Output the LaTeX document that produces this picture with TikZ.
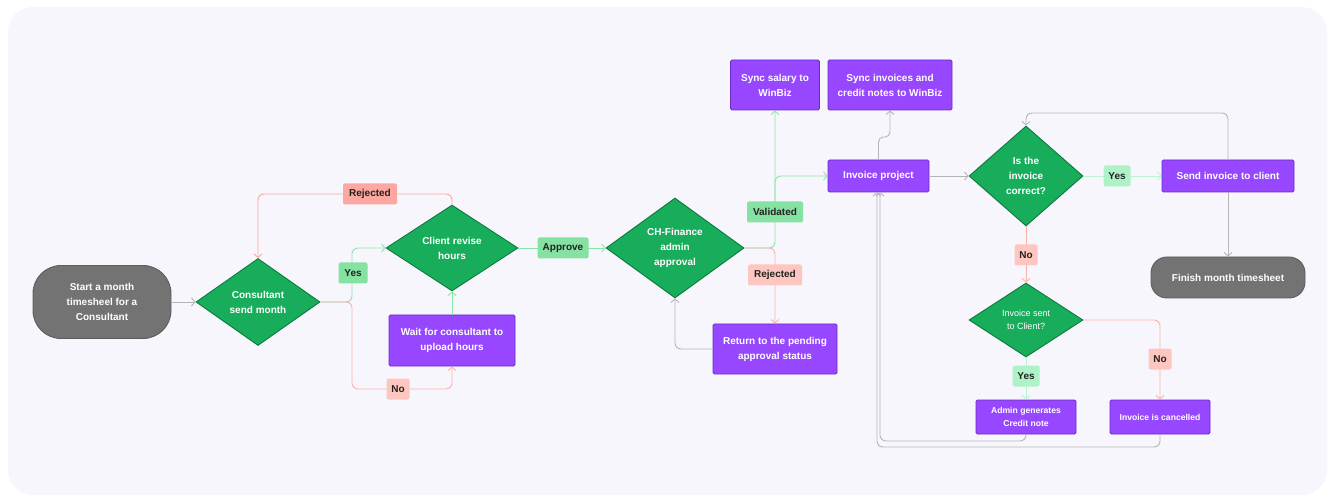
\documentclass[tikz,border=0pt]{standalone}
\usepackage{fontspec}
\setmainfont{Liberation Sans}
\usetikzlibrary{shapes.geometric,arrows.meta}
\definecolor{bgc}{HTML}{F8F6FD}
\definecolor{dg}{HTML}{17AD5B}
\definecolor{dgb}{HTML}{0D7A3D}
\definecolor{pu}{HTML}{9747FF}
\definecolor{pub}{HTML}{6C2BC2}
\definecolor{gr}{HTML}{737373}
\definecolor{grb}{HTML}{5C5C5C}
\definecolor{lgreen}{HTML}{86E2A3}
\definecolor{lgreen2}{HTML}{AEF2C8}
\definecolor{lred}{HTML}{FCA8A0}
\definecolor{lred2}{HTML}{FEC6C0}
\definecolor{cgreen}{HTML}{8AE6A8}
\definecolor{cgreen2}{HTML}{B8F5CF}
\definecolor{cred}{HTML}{FBB2AC}
\definecolor{cgray}{HTML}{B5B5B5}
\definecolor{txt}{HTML}{222222}
\begin{document}
\begin{tikzpicture}[x=1pt,y=-1pt,
  every node/.style={font=\bfseries\fontsize{10}{15}\selectfont},
  decision/.style={diamond, fill=dg, draw=dgb, line width=0.9pt, text=white, inner sep=0pt, align=center},
  proc/.style={rectangle, fill=pu, draw=pub, line width=0.9pt, text=white, align=center, rounded corners=1.5pt, inner sep=0pt},
  term/.style={rectangle, fill=gr, draw=grb, line width=0.9pt, text=white, align=center, inner sep=0pt},
  lab/.style={rectangle, rounded corners=2pt, inner sep=0pt, minimum height=21pt, text=txt},
  conn/.style={line width=0.9pt, rounded corners=6pt, -{Straight Barb[length=3.5pt,width=8pt]}},
  small/.style={font=\bfseries\fontsize{8.6}{13}\selectfont}
]
\fill[white] (0,0) rectangle (1335,502);
\fill[bgc, rounded corners=25pt] (8,7) rectangle (1327,495);
\useasboundingbox (0,0) rectangle (1335,502);

% nodes
\node[term, minimum width=138, minimum height=73, rounded corners=28pt] (start) at (102,302) {Start a month\\timesheel for a\\Consultant};
\node[decision, minimum width=124, minimum height=87] (csm) at (258,302) {Consultant\\send month};
\node[decision, minimum width=132, minimum height=86] (crh) at (452,248) {Client revise\\hours};
\node[proc, minimum width=126, minimum height=51] (wait) at (452,340.5) {Wait for consultant to\\upload hours};
\node[decision, minimum width=138, minimum height=100] (chf) at (675,248) {CH-Finance\\admin\\approval};
\node[proc, minimum width=89, minimum height=50] (sal) at (775,85) {Sync salary to\\WinBiz};
\node[proc, minimum width=124, minimum height=50] (sinv) at (890,85) {Sync invoices and\\credit notes to WinBiz};
\node[proc, minimum width=101, minimum height=32] (invp) at (878.5,176) {Invoice project};
\node[proc, minimum width=124, minimum height=50] (ret) at (775,349) {Return to the pending\\approval status};
\node[decision, minimum width=114, minimum height=100] (corr) at (1026,176) {Is the\\invoice\\correct?};
\node[proc, minimum width=132, minimum height=32] (send) at (1228,176) {Send invoice to client};
\node[term, minimum width=154, minimum height=41, rounded corners=16pt] (fin) at (1228,277.5) {Finish month timesheet};
\node[decision, minimum width=114, minimum height=74, font=\fontsize{9}{13}\selectfont] (sent) at (1026,320) {Invoice sent\\to Client?};
\node[proc, small, minimum width=100, minimum height=34] (adm) at (1026,417) {Admin generates\\Credit note};
\node[proc, small, minimum width=100, minimum height=34] (canc) at (1160,417) {Invoice is cancelled};

% connectors
\draw[conn, cgray] (start) -- (csm);
\draw[conn, cgreen] (csm.east) -- (352,302) -- (352,248) -- (crh.west);
\draw[conn, cred] (csm.east) -- (352,302) -- (352,389) -- (452,389) -- (wait.south);
\draw[conn, lred] (crh.north) -- (452,194) -- (258,194) -- (csm.north);
\draw[conn, cgreen] (wait.north) -- (crh.south);
\draw[conn, cgreen] (crh.east) -- (chf.west);
\draw[conn, cgreen] (chf.east) -- (775,248) -- (sal.south);
\draw[conn, cgreen] (775,215) -- (775,176) -- (invp.west);
\draw[conn, cred] (chf.east) -- (775,248) -- (ret.north);
\draw[conn, cgray] (ret.west) -- (675,349) -- (chf.south);
\draw[conn, cgray, rounded corners=5pt] (invp.north) -- (878.5,137) -- (890,137) -- (sinv.south);
\draw[conn, cgray] (invp) -- (corr);
\draw[conn, cgreen2] (corr) -- (send);
\draw[conn, cgray] (send.south) -- (fin.north);
\draw[conn, cgray] (send.north) -- (1228,113) -- (1026,113) -- (corr.north);
\draw[conn, cred] (corr.south) -- (sent.north);
\draw[conn, cgreen2] (sent.south) -- (adm.north);
\draw[conn, cred] (sent.east) -- (1160,320) -- (canc.north);
\draw[conn, cgray] (adm.south) -- (1026,441) -- (880,441) -- (880,192);
\draw[conn, cgray] (canc.south) -- (1160,447) -- (877,447) -- (877,192);

% labels
\node[lab, fill=lgreen, minimum width=29] (lyes1) at (353,273) {Yes};
\node[lab, fill=lred2, minimum width=23] (lno1) at (398,389) {No};
\node[lab, fill=lred, minimum width=54] (lrej1) at (370,194) {Rejected};
\node[lab, fill=lgreen, minimum width=51] (lapp) at (563,248) {Approve};
\node[lab, fill=lgreen, minimum width=56] (lval) at (775,212) {Validated};
\node[lab, fill=lred2, minimum width=54] (lrej2) at (775,275) {Rejected};
\node[lab, fill=lgreen2, minimum width=27] (lyes2) at (1117,176) {Yes};
\node[lab, fill=lred2, minimum width=23] (lno2) at (1026,255) {No};
\node[lab, fill=lgreen2, minimum width=27] (lyes3) at (1026,376) {Yes};
\node[lab, fill=lred2, minimum width=23] (lno3) at (1160,359) {No};
\end{tikzpicture}
\end{document}
